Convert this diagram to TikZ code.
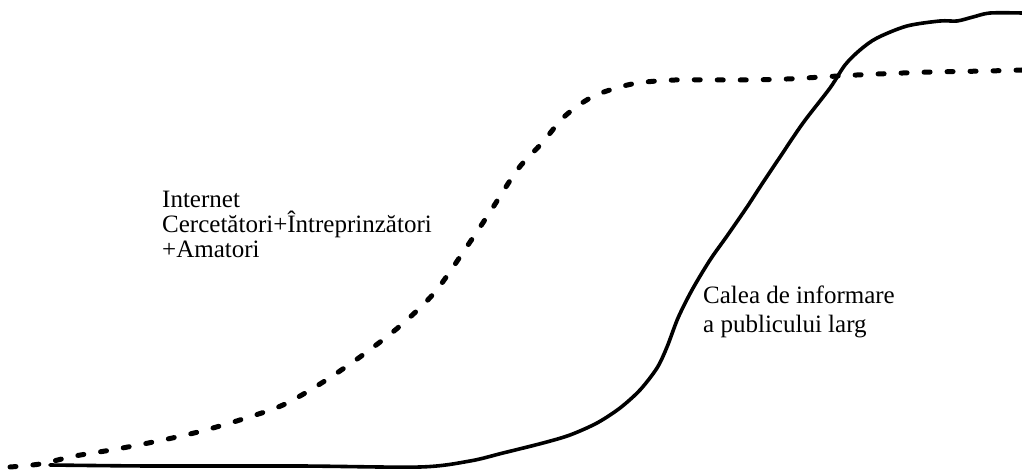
\documentclass[tikz,border=0pt]{standalone}
\usepackage{fontspec}
\setmainfont{Liberation Serif}
\begin{document}
\begin{tikzpicture}[x=1pt,y=-1pt,
  dotted curve/.style={line width=5pt, line cap=round, dash pattern=on 6pt off 17pt},
  solid curve/.style={line width=3.6pt, line cap=round, line join=round},
  label text/.style={anchor=base west, inner sep=0pt, align=left, font=\fontsize{25}{25}\selectfont}]
\useasboundingbox (0,0) rectangle (1022,470);
\draw[dotted curve] plot[smooth, tension=0.5] coordinates {
  (10,467) (40,464) (75,456) (117,449) (163,440) (202,431) (243,419) (283,405)
  (320,384) (360,357) (400,326) (435,292) (468,245) (490,212) (518,169) (542,143)
  (565,116) (594,96) (632,84) (675,80) (740,80) (787,79) (838,76) (878,74)
  (932,72) (987,71) (1022,70)};
\draw[solid curve] plot[smooth, tension=0.5] coordinates {
  (50,465) (150,466) (300,466) (420,467) (470,461) (503,453) (543,443) (570,435)
  (597,423) (620,408) (640,390) (657,368) (667,347) (678,318) (692,290)
  (710,260) (727,236) (747,207) (760,187) (780,157) (803,123) (830,88) (845,65)
  (860,50) (877,38) (907,26) (940,21) (957,21) (973,17) (990,13) (1022,13)};
\node[label text] (internet) at (162,258) {Internet\\Cercetători+Întreprinzători\\+Amatori};
\node[label text, font=\fontsize{25}{29}\selectfont] (calea) at (703,332) {Calea de informare\\a publicului larg};
\end{tikzpicture}
\end{document}
